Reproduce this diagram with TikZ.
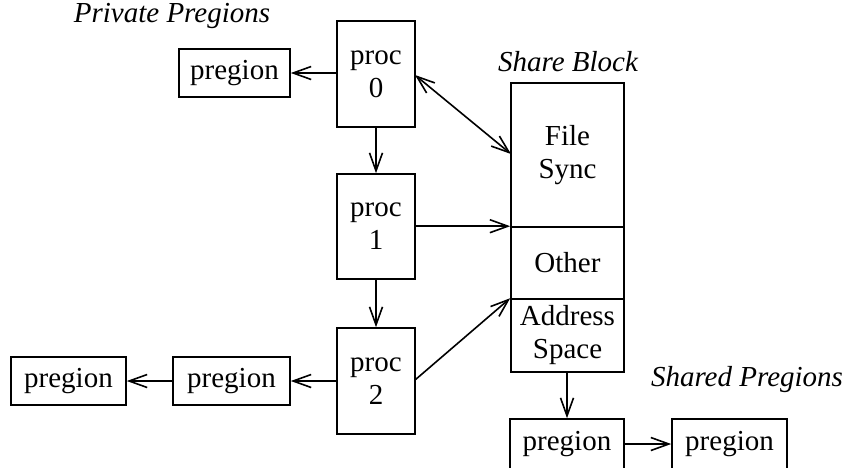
\documentclass[tikz,border=0pt]{standalone}
\usepackage{fontspec}
\setmainfont{Liberation Serif}
\usetikzlibrary{arrows.meta}
\begin{document}
\begin{tikzpicture}[x=0.5pt,y=-0.5pt,
  every node/.style={font=\fontsize{14.5}{16.5}\selectfont},
  box/.style={draw,line width=0.8pt,inner sep=0pt,align=center},
  link/.style={line width=0.8pt,-{Straight Barb[length=9pt,width=6.5pt,line width=0.8pt]}},
  blink/.style={line width=0.8pt,{Straight Barb[length=9pt,width=6.5pt,line width=0.8pt]}-{Straight Barb[length=9pt,width=6.5pt,line width=0.8pt]}},
  caption/.style={font=\fontsize{14.5}{16.5}\selectfont\itshape}]
\useasboundingbox (0,0) rectangle (850,467);

% process chain
\node[box,minimum width=39pt,minimum height=53pt] (p0) at (376,74) {proc\\0};
\node[box,minimum width=39pt,minimum height=52.5pt] (p1) at (376,226.5) {proc\\1};
\node[box,minimum width=39pt,minimum height=53pt] (p2) at (376,381) {proc\\2};

% private pregions
\node[caption] (privlbl) at (172,16) {Private Pregions};
\node[box,minimum width=55.5pt,minimum height=24pt] (prA) at (234.5,73) {pregion};
\node[box,minimum width=58.5pt,minimum height=24pt] (prB) at (231.5,381) {pregion};
\node[box,minimum width=57.5pt,minimum height=24pt] (prC) at (68.5,381) {pregion};

% share block
\node[caption] (sharelbl) at (568,62) {Share Block};
\node[box,minimum width=56.5pt,minimum height=72pt] (fs) at (567.5,155) {File\\Sync};
\node[box,minimum width=56.5pt,minimum height=36pt] (ot) at (567.5,263) {Other};
\node[box,minimum width=56.5pt,minimum height=36.5pt] (as) at (567.5,335.5) {Address\\Space};

% shared pregions
\node[caption] (shlbl) at (747,380) {Shared Pregions};
\node[box,minimum width=57pt,minimum height=25pt] (sp1) at (567,444) {pregion};
\node[box,minimum width=57.5pt,minimum height=25pt] (sp2) at (729.5,444) {pregion};

% connectors
\draw[link] (p0) -- (p1);
\draw[link] (p1) -- (p2);
\draw[link] (p0.west |- prA) -- (prA);
\draw[link] (p2.west |- prB) -- (prB);
\draw[link] (prB) -- (prC);
\coordinate (p0r) at (415,75);
\coordinate (fsin) at (511,154);
\draw[blink] (p0r) -- (fsin);
\draw[link] (p1.east |- ot.north west) -- (ot.north west);
\coordinate (p2r) at (415,380);
\draw[link] (p2r) -- (as.north west);
\draw[link] (as.south -| sp1.north) -- (sp1.north);
\draw[link] (sp1) -- (sp2);
\end{tikzpicture}
\end{document}
